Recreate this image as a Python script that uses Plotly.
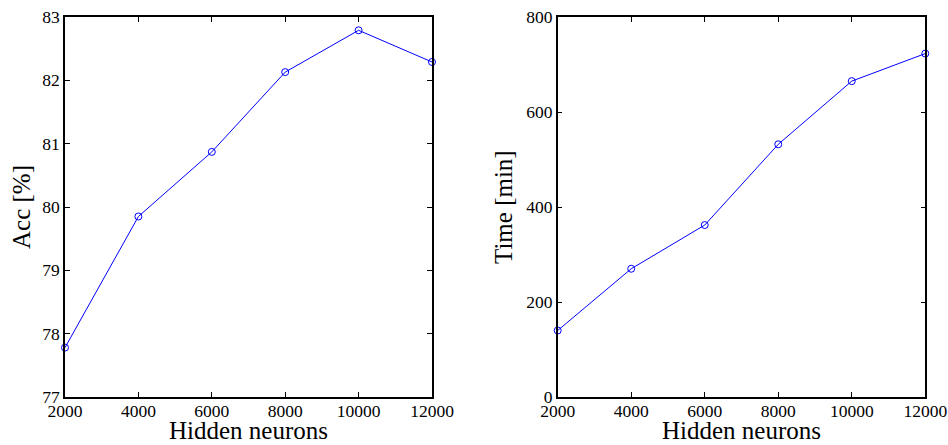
import plotly.graph_objects as go
from plotly.subplots import make_subplots

# Hidden layer sizes and measured results
hidden_neurons = [2000, 4000, 6000, 8000, 10000, 12000]
accuracy_pct = [77.78, 79.85, 80.87, 82.13, 82.79, 82.29]
time_min = [140, 270, 362, 532, 665, 723]

x_ticks = [2000, 4000, 6000, 8000, 10000, 12000]
x_tick_labels = ["2000", "4000", "6000", "8000", "10000", "12000"]
acc_ticks = [77, 78, 79, 80, 81, 82, 83]
time_ticks = [0, 200, 400, 600, 800]

W, H = 948, 445
FONT = "Liberation Serif, Times New Roman, serif"
BLUE = "#0000ff"

fig = make_subplots(rows=1, cols=2)

for col, yvals in ((1, accuracy_pct), (2, time_min)):
    fig.add_trace(
        go.Scatter(
            x=hidden_neurons, y=yvals, mode="lines+markers",
            line=dict(color=BLUE, width=1),
            marker=dict(symbol="circle-open", size=7, color=BLUE,
                        line=dict(width=1, color=BLUE)),
            showlegend=False, cliponaxis=False,
        ),
        row=1, col=col,
    )

axis_common = dict(
    showline=True, linecolor="black", linewidth=1.5, mirror="ticks",
    ticks="inside", ticklen=5, tickwidth=1, tickcolor="black",
    showgrid=False, zeroline=False, automargin=False,
    tickfont=dict(family=FONT, size=17.5, color="black"),
)

y_bot = (H - 397) / H
y_top = (H - 17) / H

fig.update_layout(
    width=W, height=H,
    margin=dict(l=0, r=0, t=0, b=0, autoexpand=False),
    paper_bgcolor="white", plot_bgcolor="white",
    xaxis=dict(domain=[65 / W, 432 / W], range=[2000, 12000],
               tickvals=x_ticks, ticktext=x_tick_labels,
               ticklabelstandoff=-3, **axis_common),
    xaxis2=dict(domain=[557.7 / W, 925.3 / W], range=[2000, 12000],
                tickvals=x_ticks, ticktext=x_tick_labels,
                ticklabelstandoff=-3, **axis_common),
    yaxis=dict(domain=[y_bot, y_top], range=[77, 83],
               tickvals=acc_ticks, **axis_common),
    yaxis2=dict(domain=[y_bot, y_top], range=[0, 800],
                tickvals=time_ticks, **axis_common),
)

title_font = dict(family=FONT, size=25, color="black")
annotations = [
    dict(text="Hidden neurons", x=(65 + 432) / 2 / W, y=0,
         xref="paper", yref="paper", showarrow=False, font=title_font,
         xanchor="center", yanchor="bottom", borderpad=0),
    dict(text="Hidden neurons", x=(557.7 + 925.3) / 2 / W, y=0,
         xref="paper", yref="paper", showarrow=False, font=title_font,
         xanchor="center", yanchor="bottom", borderpad=0),
    dict(text="Acc [%]", x=21 / W, y=(H - 207) / H, textangle=-90,
         xref="paper", yref="paper", showarrow=False, font=title_font,
         xanchor="center", yanchor="middle"),
    dict(text="Time [min]", x=503 / W, y=(H - 207) / H, textangle=-90,
         xref="paper", yref="paper", showarrow=False, font=title_font,
         xanchor="center", yanchor="middle"),
]
fig.update_layout(annotations=annotations)

fig.write_html("out.html")
